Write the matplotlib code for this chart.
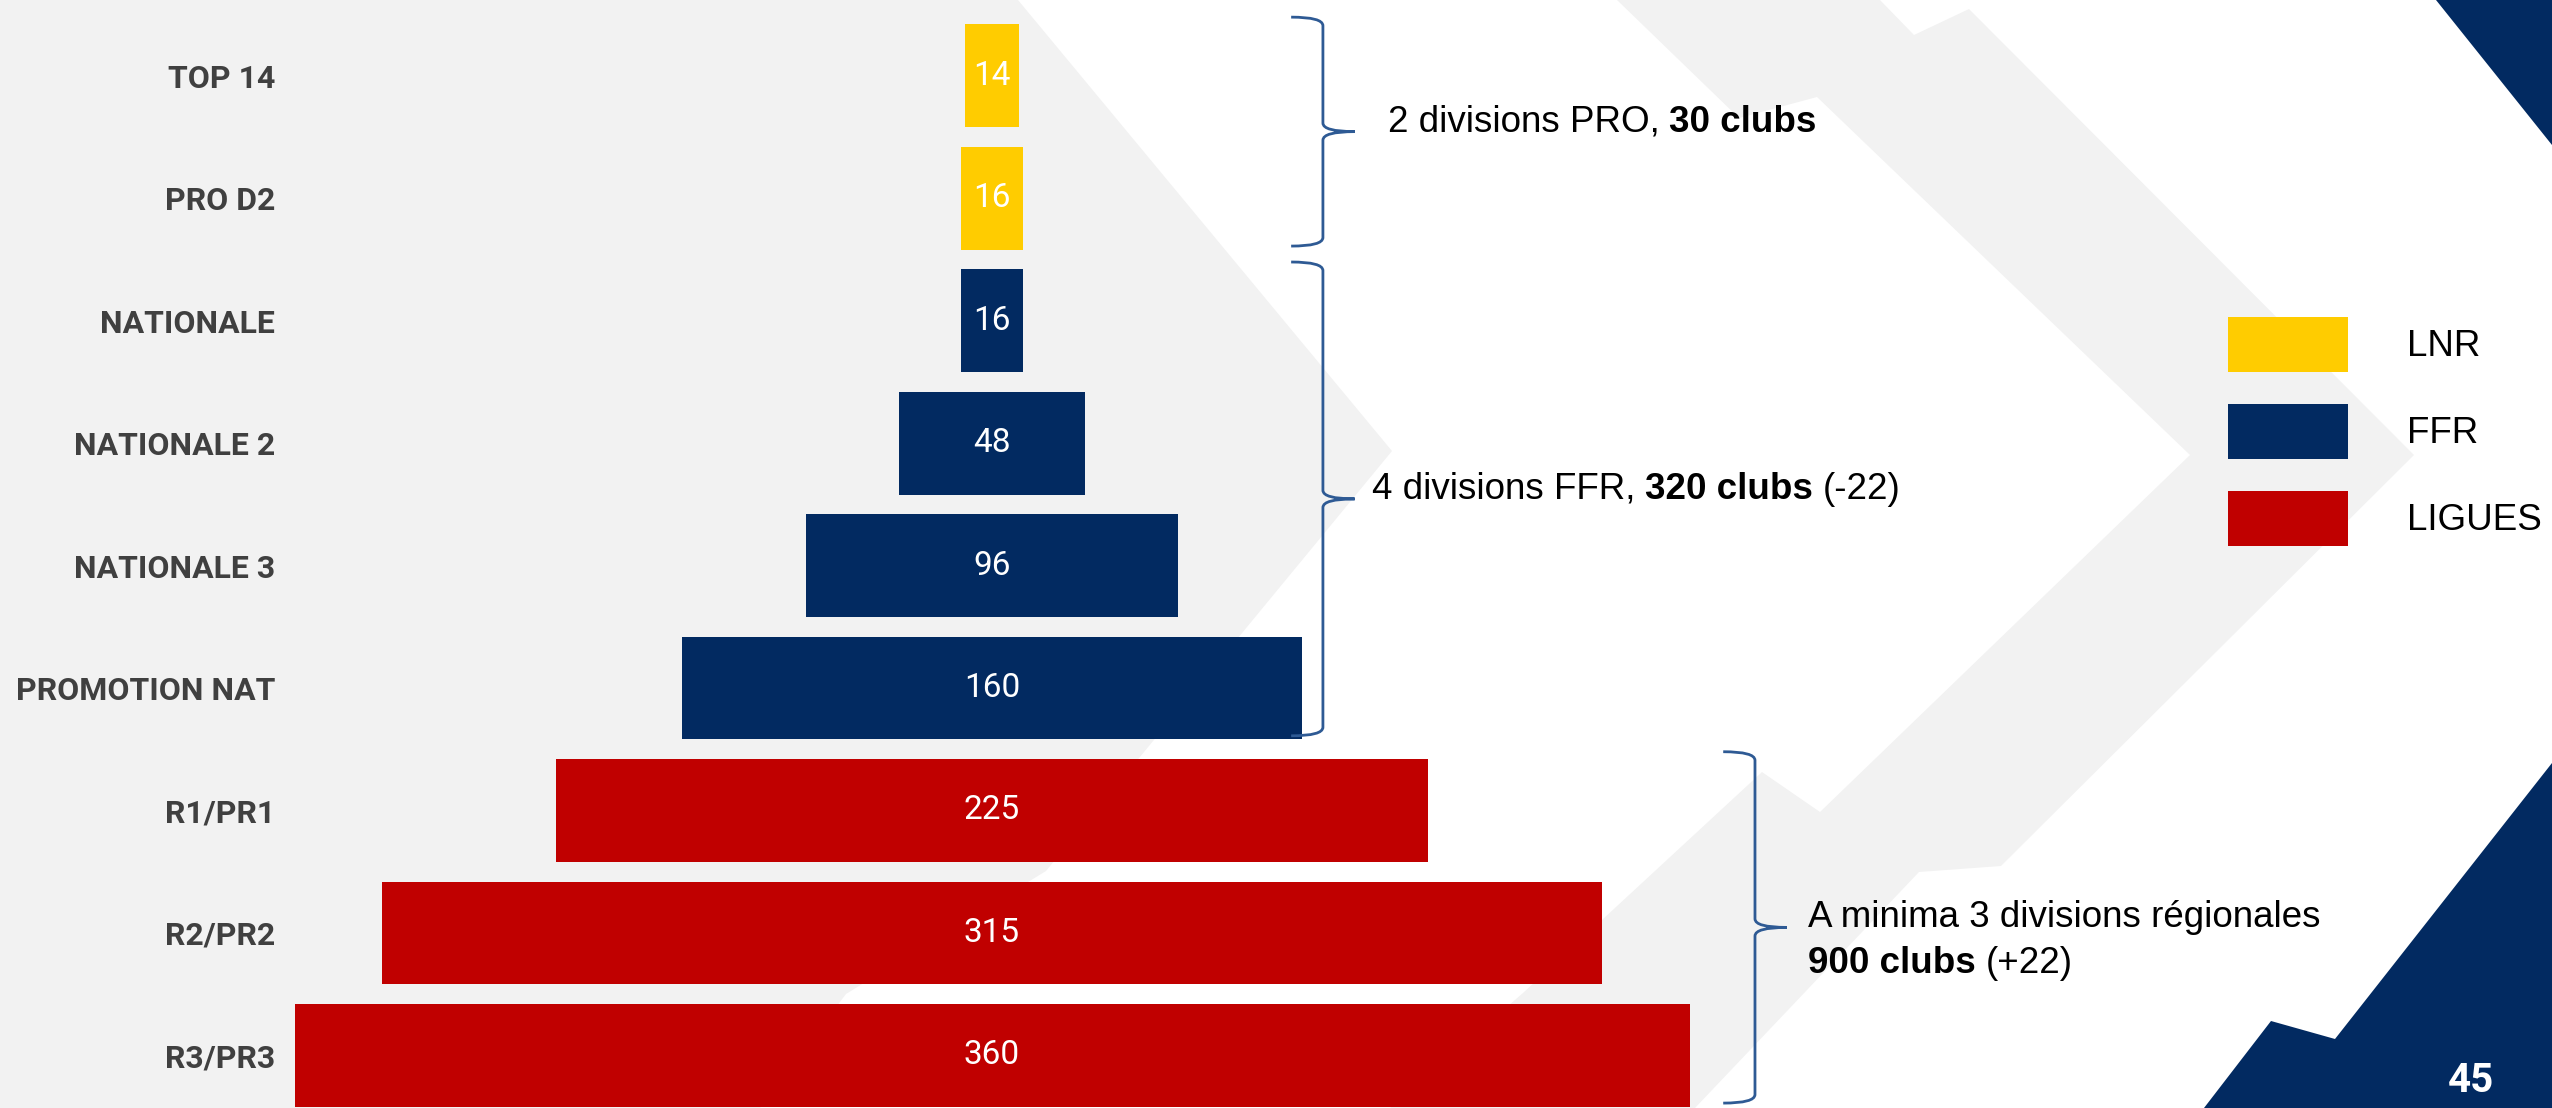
import numpy as np
import matplotlib
matplotlib.use('Agg')
import matplotlib.pyplot as plt
from matplotlib.patches import Polygon, Patch, PathPatch
from matplotlib.path import Path

# --- données ---
categories = ['TOP 14', 'PRO D2', 'NATIONALE', 'NATIONALE 2', 'NATIONALE 3',
              'PROMOTION NAT', 'R1/PR1', 'R2/PR2', 'R3/PR3']
clubs = [14, 16, 16, 48, 96, 160, 225, 315, 360]
organes = ['LNR', 'LNR', 'FFR', 'FFR', 'FFR', 'FFR', 'LIGUES', 'LIGUES', 'LIGUES']
couleurs = {'LNR': '#FFCC00', 'FFR': '#022A61', 'LIGUES': '#C00000'}

# groupes d'accolades (première ligne, dernière ligne) et textes associés
groupes = [(0, 1), (2, 5), (6, 8)]
textes = [
    [[('2 divisions PRO,', 'normal'), ('30 clubs', 'bold')]],
    [[('4 divisions FFR,', 'normal'), ('320 clubs', 'bold'), ('(-22)', 'normal')]],
    [[('A minima 3 divisions régionales', 'normal')],
     [('900 clubs', 'bold'), ('(+22)', 'normal')]],
]

W, H = 2552, 1108
fig = plt.figure(figsize=(W / 100, H / 100), dpi=100)
fig.patch.set_facecolor('white')

# --- fond de la diapo (chevrons gris, coins bleus) ---
fond = fig.add_axes([0, 0, 1, 1])
fond.set_xlim(0, W)
fond.set_ylim(H, 0)
fond.axis('off')
gris = '#F2F2F2'
marine = '#022A61'
formes = [
    ([(0, 0), (1018, 0), (1392, 451), (1046, 871), (846, 994), (760, 1108), (0, 1108)], gris),
    ([(1617, 0), (1880, 0), (1914, 35), (1969, 9), (2414, 455), (2001, 866), (1919, 872),
      (1695, 1108), (1390, 1108), (1523, 993), (1762, 772), (1820, 812), (2190, 455),
      (1817, 97), (1739, 118)], gris),
    ([(2436, 0), (W, 0), (W, 145)], marine),
    ([(2204, H), (2271, 1021), (2335, 1039), (W, 763), (W, H)], marine),
]
for pts, c in formes:
    fond.add_patch(Polygon(pts, closed=True, fc=c, ec='none'))

# --- graphique en pyramide ---
gauche = 290
centre = 992
px = 3.875  # pixels par club
ax = fig.add_axes([gauche / W, 0, 1 - gauche / W, 1])
ax.patch.set_alpha(0)
ax.set_xlim((gauche - centre) / px, (W - centre) / px)
ax.set_ylim(len(clubs) - 1 + 0.43, -0.62)

v = np.array(clubs)
barres = ax.barh(np.arange(len(v)), v, left=-v / 2, height=0.84,
                 color=[couleurs[o] for o in organes])
ax.bar_label(barres, labels=[str(c) for c in clubs], label_type='center',
             color='white', fontsize=24, family='Roboto')

ax.set_yticks(np.arange(len(categories)), categories)
ax.set_xticks([])
ax.tick_params(axis='y', length=0, pad=10.8, labelsize=23, labelcolor='#404040')
for lbl in ax.get_yticklabels():
    lbl.set_fontweight('bold')
    lbl.set_family('Roboto')
for s in ax.spines.values():
    s.set_visible(False)


def accolade(ax, x, haut, bas, larg=8.2, dy=0.07):
    mid = (haut + bas) / 2
    verts = [(x - larg, haut), (x, haut), (x, haut + dy),
             (x, mid - dy), (x, mid), (x + larg, mid),
             (x, mid), (x, mid + dy),
             (x, bas - dy), (x, bas), (x - larg, bas)]
    codes = [Path.MOVETO, Path.CURVE3, Path.CURVE3, Path.LINETO, Path.CURVE3, Path.CURVE3,
             Path.CURVE3, Path.CURVE3, Path.LINETO, Path.CURVE3, Path.CURVE3]
    ax.add_patch(PathPatch(Path(verts, codes), fc='none', ec='#2E5A94', lw=2))
    return mid


def ecrire(ax, x, y, morceaux):
    kw = dict(fontsize=26.5, family='Liberation Sans', color='black')
    t = ax.text(x, y, morceaux[0][0], fontweight=morceaux[0][1], va='baseline', ha='left', **kw)
    for s, w in morceaux[1:]:
        t = ax.annotate(s, xy=(1, 0), xycoords=t, xytext=(7, 0), textcoords='offset points',
                        fontweight=w, va='bottom', ha='left', **kw)


accolade_x = [85.4, 85.4, 196.9]
texte_x = [102.2, 98.1, 210.6]
for (a, b), xa, xt, lignes in zip(groupes, accolade_x, texte_x, textes):
    mid = accolade(ax, xa, a - 0.48, b + 0.39)
    for i, morceaux in enumerate(lignes):
        ecrire(ax, xt, mid + i * 0.376, morceaux)

# --- légende ---
poignees = [Patch(fc=couleurs[k], ec='none') for k in couleurs]
fig.legend(poignees, list(couleurs), loc='upper left',
           bbox_to_anchor=(2228 / W, 1 - 317 / H), frameon=False,
           prop={'family': 'Liberation Sans', 'size': 26.5},
           handlelength=3.26, handleheight=1.92, handletextpad=1.6,
           labelspacing=0.87, borderpad=0, borderaxespad=0)

fig.text(2471 / W, 1 - 1081 / H, '45', color='white', fontsize=29,
         fontweight='bold', family='Roboto', ha='center', va='center')

fig.savefig('out.png', dpi=100)
